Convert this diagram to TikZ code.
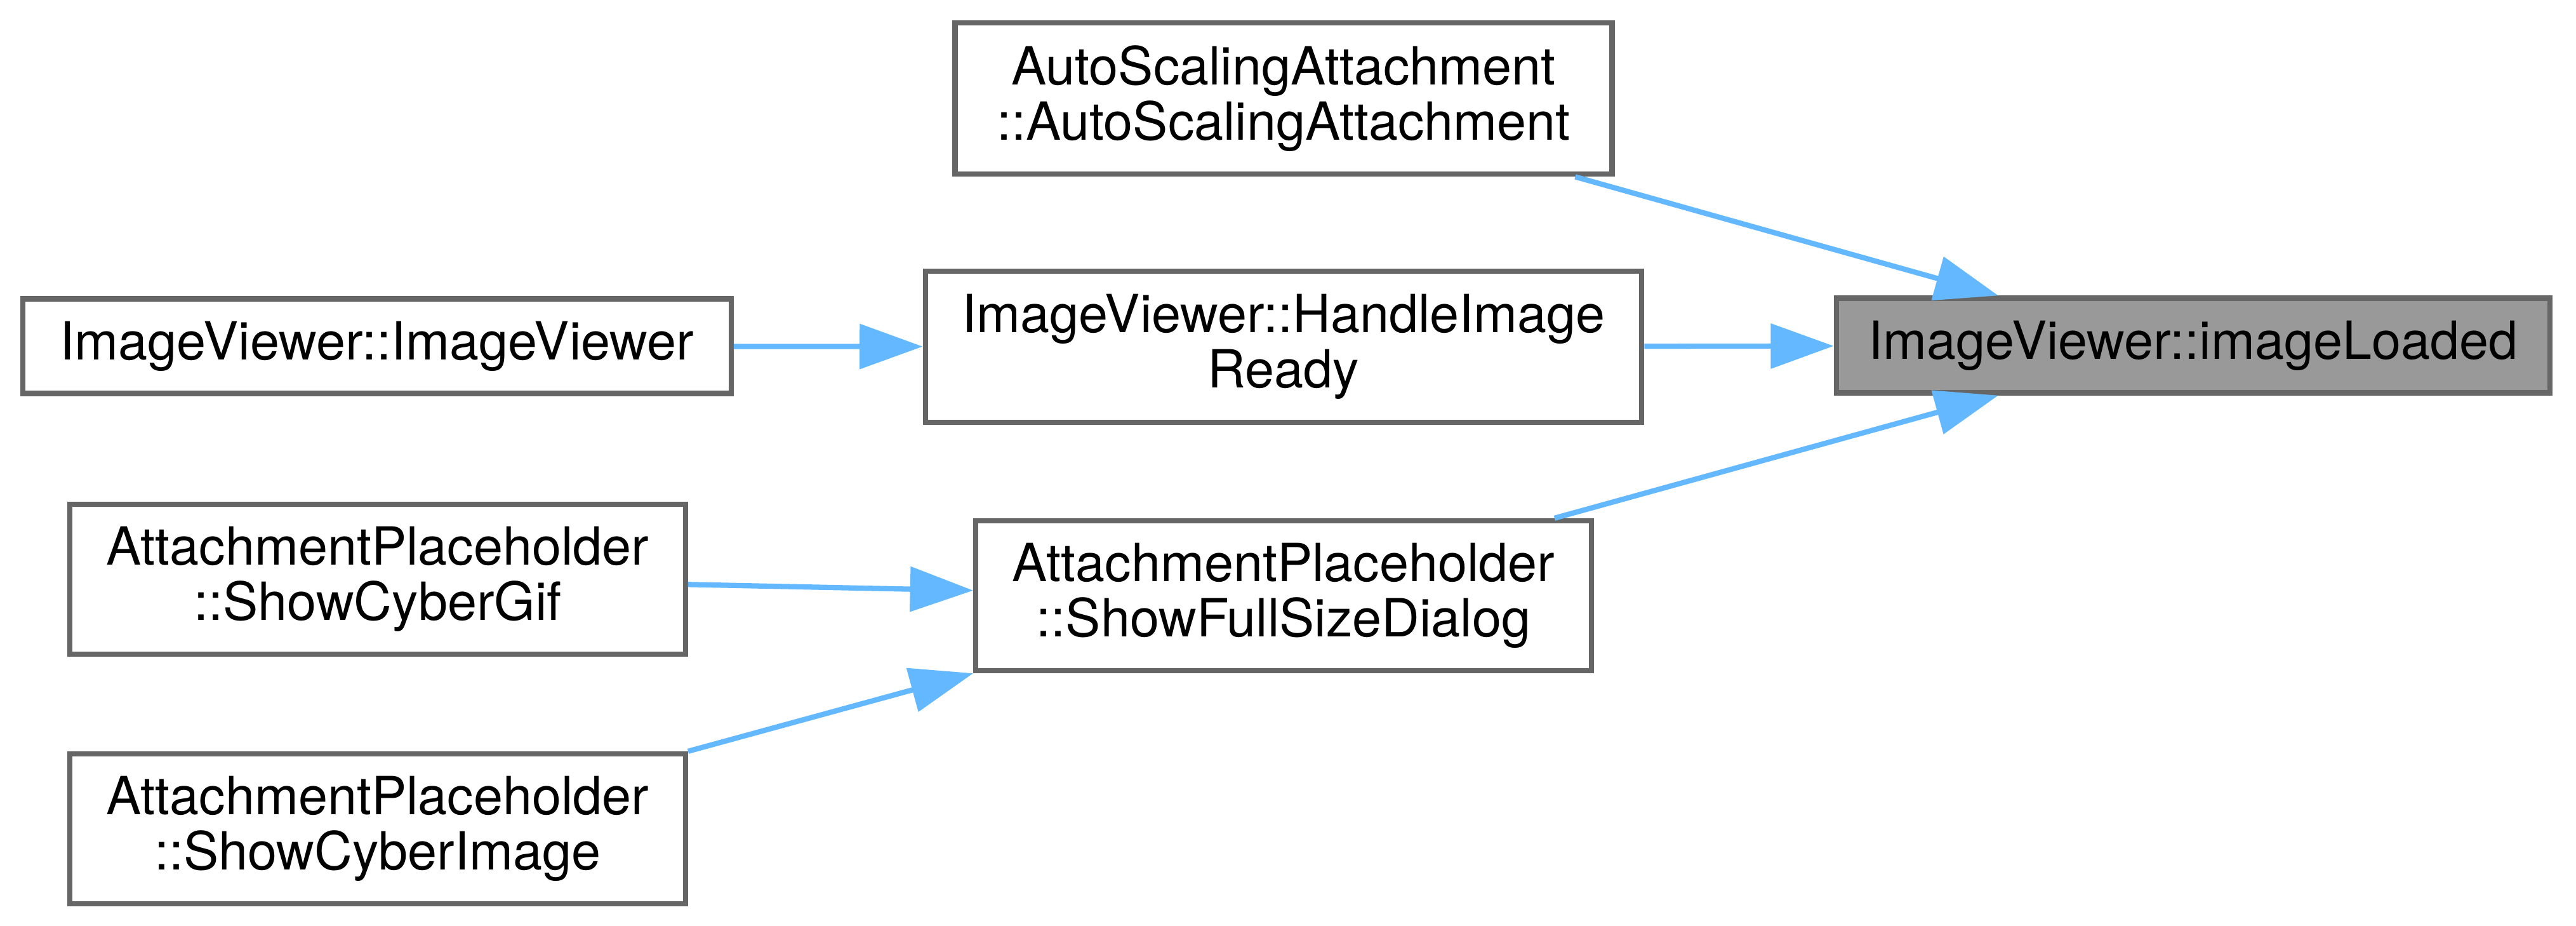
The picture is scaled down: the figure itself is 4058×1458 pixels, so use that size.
\documentclass[tikz,border=0pt]{standalone}
\usepackage{fontspec}
\setmainfont{TeX Gyre Heros}
\usetikzlibrary{arrows.meta}
\definecolor{edgeblue}{HTML}{63B8FF}
\definecolor{boxgray}{HTML}{666666}
\definecolor{fillgray}{HTML}{999999}
\tikzset{
	fnbox/.style={draw=boxgray, line width=1pt, fill=white, inner sep=0pt, align=center, font=\fontsize{10}{10.5}\selectfont},
	callarrow/.style={draw=edgeblue, line width=1pt, -{Triangle[length=12pt, width=8.4pt]}}
}
\begin{document}
\begin{tikzpicture}[x=0.12077pt, y=-0.12077pt]
				\useasboundingbox (0,0) rectangle (4058,1458);
				\node[fnbox, minimum width=125pt, minimum height=28.8pt] (auto) at (2022,155) {AutoScalingAttachment\\::AutoScalingAttachment};
				\node[fnbox, minimum width=134.7pt, minimum height=18pt] (ivctor) at (594,545) {ImageViewer::ImageViewer};
				\node[fnbox, minimum width=136.3pt, minimum height=28.8pt] (handle) at (2022,546) {ImageViewer::HandleImage\\Ready};
				\node[fnbox, fill=fillgray, minimum width=135.8pt, minimum height=18pt] (loaded) at (3455,544) {ImageViewer::imageLoaded};
				\node[fnbox, minimum width=117.1pt, minimum height=28.5pt] (gif) at (595,912) {AttachmentPlaceholder\\::ShowCyberGif};
				\node[fnbox, minimum width=117.1pt, minimum height=28.5pt] (sfsd) at (2022,938) {AttachmentPlaceholder\\::ShowFullSizeDialog};
				\node[fnbox, minimum width=117.1pt, minimum height=28.5pt] (cimg) at (595,1305) {AttachmentPlaceholder\\::ShowCyberImage};
				\draw[callarrow] ([xshift=-7.5pt]auto.south east) -- ([xshift=31.3pt]loaded.north west);
				\draw[callarrow] (handle) -- (loaded);
				\draw[callarrow] ([xshift=-7.5pt]sfsd.north east) -- ([xshift=31.3pt]loaded.south west);
				\draw[callarrow] (ivctor) -- (handle);
				\draw[callarrow] ([yshift=-1pt]gif.east) -- ([yshift=1pt]sfsd.west);
				\draw[callarrow] (cimg.north east) -- (sfsd.south west);
\end{tikzpicture}
\end{document}
